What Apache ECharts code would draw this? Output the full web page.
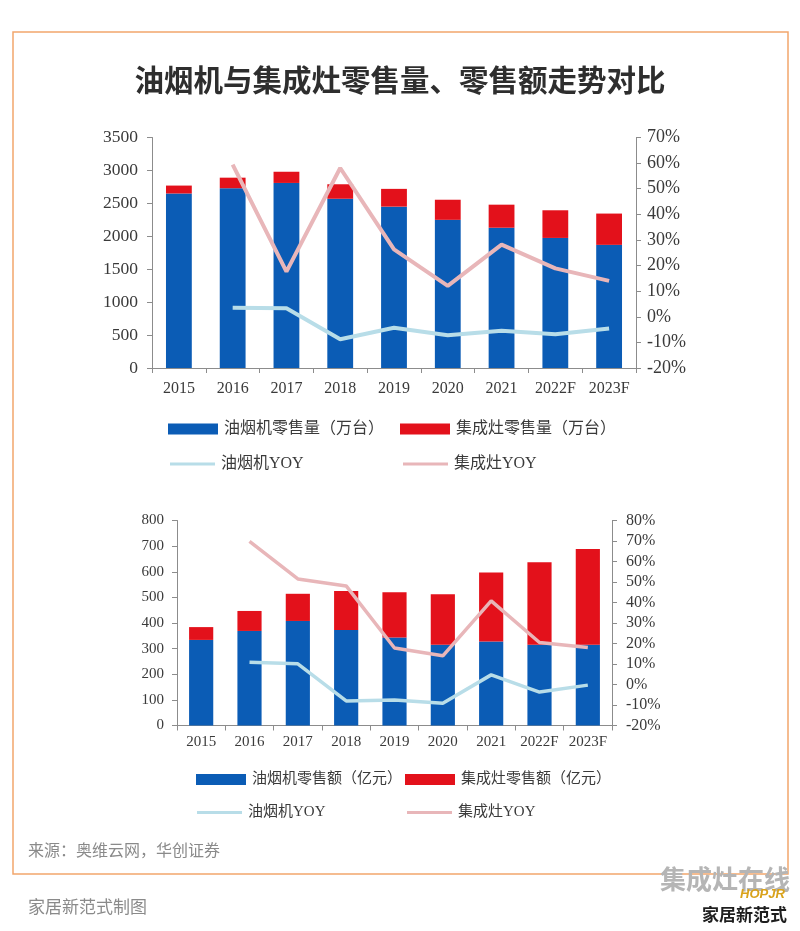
<!DOCTYPE html>
<html>
<head>
<meta charset="utf-8">
<script src="https://cdn.jsdelivr.net/npm/echarts@6/dist/echarts.min.js"></script>
<style>
html,body{margin:0;padding:0;background:#fff;}
#c{width:800px;height:931px;}
</style>
</head>
<body>
<div id="c"></div>
<script>
// ---- data ----
var years = ['2015','2016','2017','2018','2019','2020','2021','2022F','2023F'];
var volTicks = [0, 3500, 500];        // min, max, interval (万台)
var volPctTicks = [-20, 70, 10];      // %
var salesTicks = [0, 800, 100];       // 亿元
var salesPctTicks = [-20, 80, 10];    // %

var hoodVolume  = [2650, 2730, 2810, 2570, 2450, 2250, 2130, 1975, 1870];
var stoveVolume = [120, 160, 170, 220, 270, 305, 350, 420, 475];
var hoodVolumeYoy  = [null, 3.5, 3.3, -8.8, -4.3, -7.2, -5.5, -6.8, -4.6];
var stoveVolumeYoy = [null, 59.4, 17.6, 58.1, 26.3, 12.1, 28.2, 18.9, 14.0];

var hoodSales  = [334, 369, 408, 373, 343, 315, 328, 315, 315];
var stoveSales = [50, 78, 106, 152, 177, 197, 269, 322, 374];
var hoodSalesYoy  = [null, 10.9, 10.1, -8.0, -7.6, -9.1, 4.7, -3.7, -0.3];
var stoveSalesYoy = [null, 69.8, 51.5, 48.1, 17.8, 14.0, 40.8, 20.5, 18.0];

var title = '油烟机与集成灶零售量、零售额走势对比';
var sourceText = '来源：奥维云网，华创证券';
var credit = '家居新范式制图';

// ---- styles ----
var BLUE = '#0b5cb5', RED = '#e3111b', LBLUE = '#b8dde8', PINK = '#e8b6b9';
var AX = '#8c8c8c', TXT = '#3a3a3a';
var SERIF = '"Liberation Serif", "Noto Serif CJK SC", "Noto Sans CJK SC", serif';
var LEGF = '"Liberation Serif", "Noto Sans CJK SC", serif';

function xAxis(gi, fs, margin){
  return {type:'category', gridIndex:gi, data:years, boundaryGap:true,
    axisLine:{show:true, lineStyle:{color:AX, width:1}},
    axisTick:{show:true, inside:false, length:5, alignWithLabel:false, lineStyle:{color:AX}},
    axisLabel:{color:TXT, fontFamily:SERIF, fontSize:fs, margin:margin, interval:0},
    splitLine:{show:false}};
}
function yAxis(gi, ticks, pos, fs, pct, margin){
  return {type:'value', gridIndex:gi, position:pos, min:ticks[0], max:ticks[1], interval:ticks[2],
    axisLine:{show:true, lineStyle:{color:AX, width:1}},
    axisTick:{show:true, inside:false, length:5, lineStyle:{color:AX}},
    axisLabel:{color:TXT, fontFamily:SERIF, fontSize:fs, margin:margin,
      formatter: function(v){ return String(v) + (pct ? '%' : ''); }},
    splitLine:{show:false}};
}
function bar(name, data, xi, yi, color, bw){
  return {name:name, type:'bar', stack:'s'+xi, xAxisIndex:xi, yAxisIndex:yi, data:data,
    barWidth:bw, itemStyle:{color:color}, z:2, silent:true};
}
function line(name, data, xi, yi, color, w){
  return {name:name, type:'line', xAxisIndex:xi, yAxisIndex:yi, data:data, symbol:'none',
    smooth:false, lineStyle:{color:color, width:w}, itemStyle:{color:color}, z:5, silent:true, connectNulls:false};
}
function leg(name, left, top, fs, isBar){
  return {show:true, data:[name], left:left, top:top, orient:'horizontal', padding:0,
    itemWidth: isBar?50:45, itemHeight: isBar?11:3, itemGap:0, selectedMode:false,
    icon:'rect',
    textStyle:{color:TXT, fontFamily:LEGF, fontSize:fs, padding:[0,0,0,1]}};
}

var chart = echarts.init(document.getElementById('c'), null, {renderer:'canvas'});
var option = {
  backgroundColor:'#ffffff',
  animation:false,
  grid:[
    {left:152, top:137.5, width:484, height:230.5},
    {left:177, top:520.5, width:435, height:205}
  ],
  xAxis:[ xAxis(0, 16, 13), xAxis(1, 15, 9) ],
  yAxis:[
    yAxis(0, volTicks, 'left', 17.5, false, 14),
    yAxis(0, volPctTicks, 'right', 18, true, 11),
    yAxis(1, salesTicks, 'left', 15, false, 13),
    yAxis(1, salesPctTicks, 'right', 16, true, 14)
  ],
  legend:[
    leg('油烟机零售量（万台）', 168, 421, 16, true),
    leg('集成灶零售量（万台）', 400, 421, 16, true),
    leg('油烟机YOY', 170, 456, 16, false),
    leg('集成灶YOY', 403, 456, 16, false),
    leg('油烟机零售额（亿元）', 196, 772, 15, true),
    leg('集成灶零售额（亿元）', 405, 772, 15, true),
    leg('油烟机YOY ', 197, 805, 15, false),
    leg('集成灶YOY ', 407, 805, 15, false)
  ],
  series:[
    bar('油烟机零售量（万台）', hoodVolume, 0, 0, BLUE, '48%'),
    bar('集成灶零售量（万台）', stoveVolume, 0, 0, RED, '48%'),
    line('油烟机YOY', hoodVolumeYoy, 0, 1, LBLUE, 4),
    line('集成灶YOY', stoveVolumeYoy, 0, 1, PINK, 4),
    bar('油烟机零售额（亿元）', hoodSales, 1, 2, BLUE, '50%'),
    bar('集成灶零售额（亿元）', stoveSales, 1, 2, RED, '50%'),
    line('油烟机YOY ', hoodSalesYoy, 1, 3, LBLUE, 3.5),
    line('集成灶YOY ', stoveSalesYoy, 1, 3, PINK, 3.5)
  ],
  graphic:[
    {type:'rect', shape:{x:13, y:32, width:775, height:842}, silent:true, z:0,
      style:{fill:null, stroke:'#f2a66c', lineWidth:1.5}},
    {type:'text', left:'center', top:65, silent:true,
      style:{text:title, fill:'#2e2e2e', font:'bold 29.5px "Noto Sans CJK SC", sans-serif'}},
    {type:'text', left:28, top:842, silent:true,
      style:{text:sourceText, fill:'#8a8a8a', font:'16px "Noto Sans CJK SC", sans-serif'}},
    {type:'text', left:28, top:898, silent:true,
      style:{text:credit, fill:'#8a8a8a', font:'17px "Noto Sans CJK SC", sans-serif'}},
    {type:'text', left:660, top:866, silent:true,
      style:{text:'集成灶在线', fill:'#b5b5b5', font:'bold 26px "Noto Sans CJK SC", sans-serif'}},
    {type:'text', left:740, top:888, silent:true,
      style:{text:'HOPJR', fill:'#d9a21b', font:'bold italic 13px "Liberation Sans", sans-serif'}},
    {type:'text', left:702, top:906, silent:true,
      style:{text:'家居新范式', fill:'#1e1e1e', font:'bold 17px "Noto Sans CJK SC", sans-serif'}}
  ]
};
chart.setOption(option);
</script>
</body>
</html>
